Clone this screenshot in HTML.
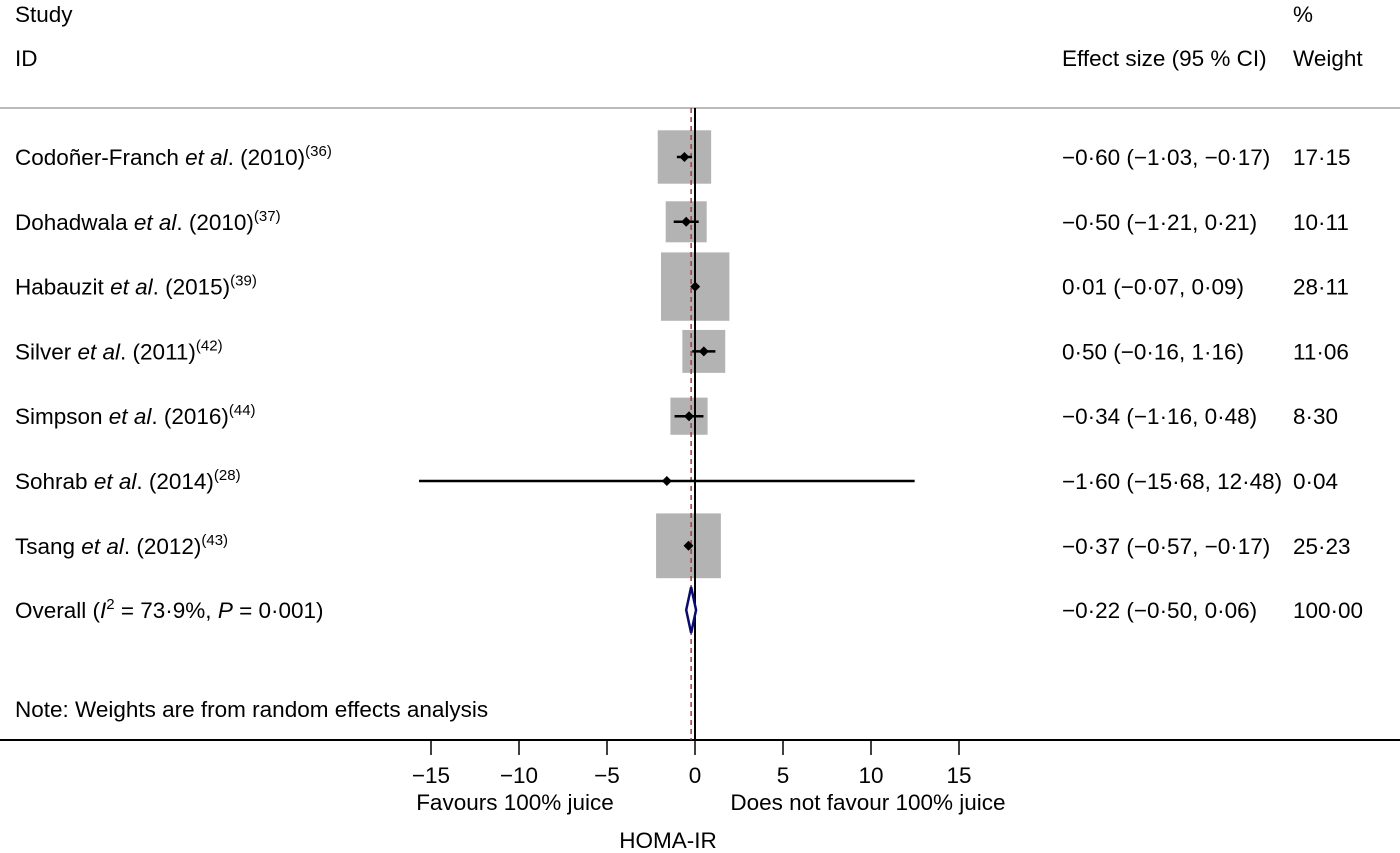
<!DOCTYPE html>
<html><head><meta charset="utf-8"><style>
body{margin:0;background:#fff;}
svg{display:block;font-family:"Liberation Sans",sans-serif;font-size:22.5px;}
</style></head><body>
<svg id="c" width="1400" height="853">
<text x="15" y="22">Study</text>
<text x="15" y="66">ID</text>
<text x="1062" y="66">Effect size (95 % CI)</text>
<text x="1293" y="22">%</text>
<text x="1293" y="66">Weight</text>
<line x1="0" y1="108" x2="1400" y2="108" stroke="#bbb" stroke-width="2"/>
<text x="15" y="717">Note: Weights are from random effects analysis</text>
<text x="15" y="618">Overall  (<tspan font-style="italic">I</tspan><tspan dy="-9" font-size="15">2</tspan><tspan dy="9"> = 73·9%, </tspan><tspan font-style="italic">P</tspan> = 0·001)</text>
<text x="1062" y="618">−0·22 (−0·50, 0·06)</text>
<text x="1293" y="618">100·00</text>
<line x1="0" y1="740" x2="1400" y2="740" stroke="#000" stroke-width="2"/>
<text x="515" y="810" text-anchor="middle">Favours 100% juice</text>
<text x="868" y="810" text-anchor="middle">Does not favour 100% juice</text>
<text x="668" y="848" text-anchor="middle">HOMA-IR</text>
<g id="plot"></g>
</svg>
<script>
const studies=["Codoñer-Franch","Dohadwala","Habauzit","Silver","Simpson","Sohrab","Tsang"];
const years=["2010","2010","2015","2011","2016","2014","2012"];
const refs=["36","37","39","42","44","28","43"];
const effects=[-0.60,-0.50,0.01,0.50,-0.34,-1.60,-0.37];
const lows=[-1.03,-1.21,-0.07,-0.16,-1.16,-15.68,-0.57];
const highs=[-0.17,0.21,0.09,1.16,0.48,12.48,-0.17];
const weights=[17.15,10.11,28.11,11.06,8.30,0.04,25.23];
const effectLabels=["−0·60 (−1·03, −0·17)","−0·50 (−1·21, 0·21)","0·01 (−0·07, 0·09)","0·50 (−0·16, 1·16)","−0·34 (−1·16, 0·48)","−1·60 (−15·68, 12·48)","−0·37 (−0·57, −0·17)"];
const weightLabels=["17·15","10·11","28·11","11·06","8·30","0·04","25·23"];
const overall=[-0.22,-0.50,0.06];
const ticks=[-15,-10,-5,0,5,10,15];
const tickLabels=["−15","−10","−5","0","5","10","15"];

const NS="http://www.w3.org/2000/svg";
const g=document.getElementById('plot');
const X=v=>695+v*17.6;
const Y=i=>157+i*64.8;
function mk(t,a){const e=document.createElementNS(NS,t);for(const k in a)e.setAttribute(k,a[k]);g.appendChild(e);return e;}
effects.forEach((e,i)=>{
  const s=12.9*Math.sqrt(weights[i]);
  if(s>4){const r=mk('rect',{x:X(e)-s/2,y:Y(i)-s/2,width:s,height:s,fill:'#b3b3b3'});
  
  }
});
const z=mk('line',{x1:X(0),y1:108,x2:X(0),y2:740,stroke:'#000','stroke-width':2});


const ov=mk('line',{x1:X(overall[0]),y1:108,x2:X(overall[0]),y2:740,stroke:'#a04040','stroke-width':1.5,'stroke-dasharray':'5,4'});


effects.forEach((e,i)=>{
  const y=Y(i);
  const l=mk('line',{x1:X(lows[i]),y1:y,x2:X(highs[i]),y2:y,stroke:'#000','stroke-width':2.5});
  
  
  const x=X(e);
  const d=mk('polygon',{points:`${x-5},${y} ${x},${y-5} ${x+5},${y} ${x},${y+5}`,fill:'#000'});
  
  
  const t=mk('text',{x:15,y:y+8});
  t.innerHTML=`${studies[i]} <tspan font-style="italic">et al</tspan>. (${years[i]})<tspan dy="-9" font-size="15">(${refs[i]})</tspan>`;
  
  
  const ef=mk('text',{x:1062,y:y+8});ef.textContent=effectLabels[i];
  
  
  const w=mk('text',{x:1293,y:y+8});w.textContent=weightLabels[i];
  
  
});
const oy=610;
const dm=mk('polygon',{points:`${X(overall[1])},${oy} ${X(overall[0])},${oy-23} ${X(overall[2])},${oy} ${X(overall[0])},${oy+23}`,fill:'#fff',stroke:'#0a0a70','stroke-width':2.5});


ticks.forEach((v,i)=>{
  const tk=mk('line',{x1:X(v),y1:740,x2:X(v),y2:755,stroke:'#000','stroke-width':1.5});
  
  
  const tl=mk('text',{x:X(v),y:783,'text-anchor':'middle'});tl.textContent=tickLabels[i];
  
  
});
</script>
</body></html>
